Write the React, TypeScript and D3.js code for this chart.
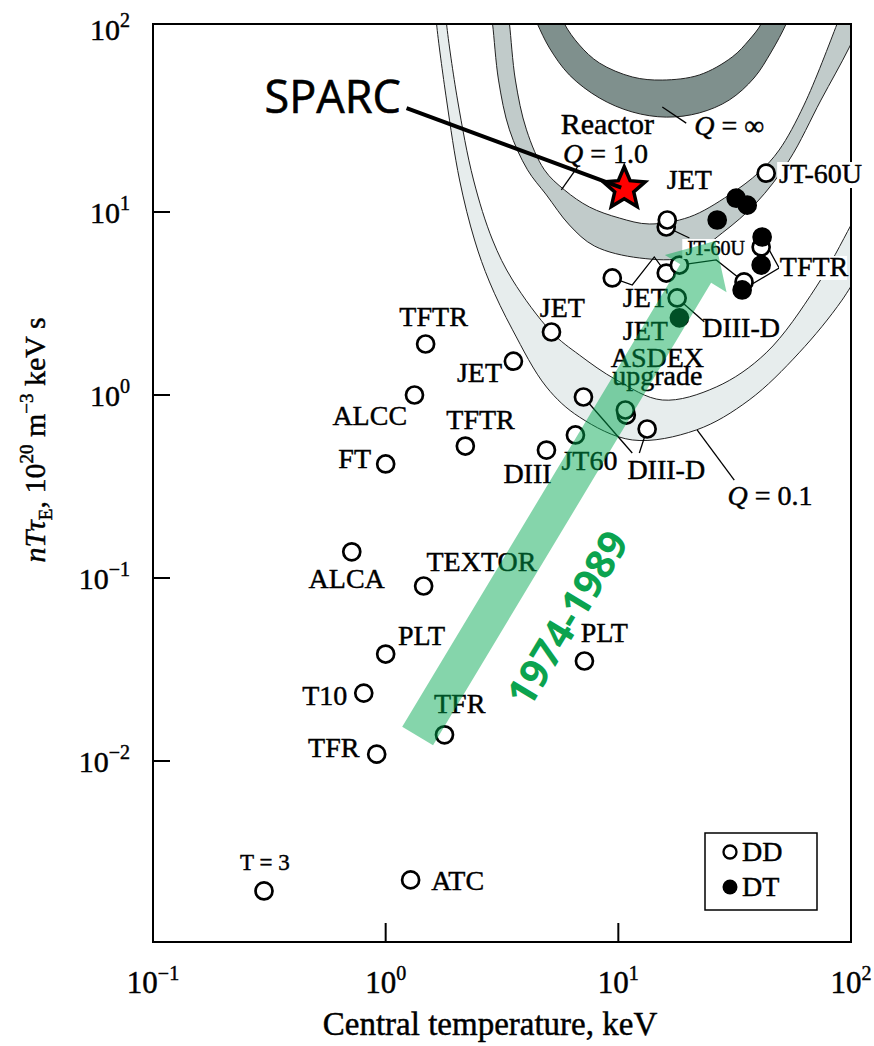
import React from "react";
import * as d3 from "d3";

const W = 874;
const H = 1046;
const PLOT = { x0: 153, x1: 851, y0: 24, y1: 942 };

// ---------- axis ticks ----------
const xTickValues = [0.1, 1, 10, 100];
const xTickExponents = ["−1", "0", "1", "2"];
const yTickValues = [0.01, 0.1, 1, 10, 100];
const yTickExponents = ["−2", "−1", "0", "1", "2"];

// ---------- discharges: [central temperature keV, nTτE 1e20 m^-3 keV s] ----------
const ddShots: [number, number][] = [
  [0.3, 0.00195], // T-3
  [1.28, 0.00224], // ATC
  [0.915, 0.0109], // TFR
  [0.805, 0.0235], // T10
  [1.0, 0.0384], // PLT
  [0.715, 0.139], // ALCA
  [1.456, 0.0904], // TEXTOR
  [1.0, 0.42], // FT
  [1.33, 1.0], // ALCC
  [1.485, 1.9], // TFTR
  [2.2, 0.526], // TFTR
  [3.54, 1.53], // JET
  [5.16, 2.21], // JET
  [4.91, 0.5], // DIII
  [1.79, 0.0139], // TFR
  [7.15, 0.0352], // PLT
  [6.54, 0.605], // JT60
  [7.08, 0.975], // DIII-D
  [10.82, 0.777], // ASDEX upgrade
  [10.72, 0.828], // ASDEX upgrade
  [13.3, 0.652], // DIII-D
  [9.42, 4.36], // JET
  [16.07, 4.64], // JET
  [18.3, 5.13], // JT-60U
  [17.9, 3.39], // DIII-D
  [16.07, 8.28], // JET
  [16.23, 9.04], // JET
  [43.2, 16.3], // JT-60U
  [41.1, 6.44], // TFTR
  [34.7, 4.15], // TFTR
];

const dtShots: [number, number][] = [
  [32.1, 11.9], // JET
  [35.8, 10.9], // JET
  [26.6, 9.04], // JET
  [41.5, 7.3], // TFTR
  [41.1, 5.13], // TFTR
  [34.05, 3.75], // TFTR
  [18.3, 2.64], // DIII-D
];

const sparcPoint: [number, number] = [10.6, 13.4];

// ---------- Q contours (band boundaries) ----------
const q01Outer: [number, number][] = [
  [1.64, 127], [1.655, 106.5], [1.827, 40.9], [2.078, 14.96], [2.41, 7.03], [2.795, 4.145],
  [3.51, 2.27], [4.91, 1.106], [6.8, 0.758], [11.48, 0.568], [21.62, 0.644], [36.49, 0.939],
  [59.8, 1.7], [91.5, 3.3], [119.5, 5.82],
];
const q01Inner: [number, number][] = [
  [1.81, 127], [1.827, 106.5], [2.037, 40.9], [2.386, 14.96], [2.88, 7.03], [3.51, 4.25],
  [5.157, 2.21], [6.8, 1.654], [9.8, 1.21], [15.45, 0.939], [26.35, 1.106], [43.18, 1.7],
  [70.8, 3.89], [100, 8.49], [113.7, 11.63],
];
const q1Outer: [number, number][] = [
  [2.82, 127], [2.88, 106.5], [3.055, 52.6], [3.405, 28.1], [4.07, 17.0], [4.91, 12.39],
  [6.16, 8.49], [7.89, 6.52], [12.31, 5.61], [19.58, 5.68], [27.96, 7.68], [39.11, 11.2],
  [54.2, 19.2], [74.3, 40.9], [98, 78.7], [113.7, 119],
];
const q1Inner: [number, number][] = [
  [3.34, 127], [3.405, 106.5], [3.61, 52.6], [4.03, 28.1], [4.81, 17.0], [5.87, 13.19],
  [7.51, 10.65], [10.1, 9.27], [13.58, 8.6], [20.2, 9.39], [29.96, 12.39], [40.3, 16.5],
  [49.1, 21.8], [62.8, 38.4], [87.1, 106.5], [93.3, 135],
];
const qInfOuter: [number, number][] = [
  [4.23, 127], [4.49, 106.5], [5.06, 78.7], [6.16, 56.1], [8.29, 42.0], [11.48, 35.2],
  [16.07, 33.0], [22.3, 34.8], [29.96, 40.9], [38.3, 54.0], [45.4, 74.9], [52.6, 106.5], [55.3, 127],
];
const qInfInner: [number, number][] = [
  [5.58, 127], [5.87, 106.5], [6.8, 81.8], [8.29, 65.2], [11.48, 54.7], [15.45, 52.6],
  [22.3, 56.1], [30.86, 70.3], [36.49, 87.1], [41.09, 106.5], [43.18, 127],
];

// ---------- annotations (anchored in data space) ----------
const machineLabels: [string, number, number][] = [
  ["ATC", 2.04, 0.00197],
  ["TFR", 0.598, 0.0105],
  ["T10", 0.547, 0.0202],
  ["PLT", 1.427, 0.043],
  ["ALCA", 0.68, 0.0882],
  ["TEXTOR", 2.58, 0.109],
  ["PLT", 8.71, 0.0447],
  ["TFR", 2.08, 0.0183],
  ["FT", 0.736, 0.399],
  ["ALCC", 0.854, 0.686],
  ["TFTR", 1.607, 2.38],
  ["TFTR", 2.557, 0.652],
  ["JET", 2.53, 1.178],
  ["JET", 5.75, 2.67],
  ["DIII", 4.07, 0.33],
  ["JT60", 7.51, 0.389],
  ["DIII-D", 16.07, 0.3475],
  ["JET", 13.06, 1.99],
  ["ASDEX", 14.71, 1.42],
  ["upgrade", 14.71, 1.134],
  ["DIII-D", 33.7, 2.07],
  ["JET", 13.06, 3.03],
  ["JET", 20.2, 13.36],
];
const qLabels: [string, number, number][] = [
  [" = 1.0", 8.8, 18.5],
  [" = ∞", 29.96, 26.35],
  [" = 0.1", 44.9, 0.2506],
];
const leaderLines: [number, number][][] = [
  [[9.42, 4.36], [11.48, 3.99], [14.27, 5.68], [16.07, 4.64]],
  [[16.07, 8.28], [20.2, 7.21]],
  [[18.3, 5.13], [26.35, 5.47], [34.7, 4.15]],
  [[41.5, 7.3], [49.1, 4.94], [34.05, 3.75]],
  [[17.9, 3.39], [23.4, 2.51]],
  [[7.08, 0.975], [11.48, 0.482]],
  [[13.3, 0.652], [12.31, 0.482]],
  [[21.8, 0.644], [31.5, 0.343]],
  [[15.45, 37.5], [19.58, 30.6]],
  [[5.69, 13.19], [6.67, 17.6]],
];
const sparcLabelAnchor: [number, number] = [0.592, 34.8];
const sparcLineStart: [number, number] = [1.23, 37.0];
const arrowTail: [number, number] = [1.372, 0.0137];
const arrowTip: [number, number] = [26.1, 6.94];
const arrowLabelAnchor: [number, number] = [5.98, 0.0605];

const SERIF = "'Liberation Serif', 'Times New Roman', serif";
const SANS = "'Open Sans', 'Noto Sans', sans-serif";
const HEAVY = { stroke: "#000", strokeWidth: 0.45 };

function starPath(cx: number, cy: number, R: number, r: number) {
  const pts: string[] = [];
  for (let i = 0; i < 10; i++) {
    const a = -Math.PI / 2 + (i * Math.PI) / 5;
    const rad = i % 2 === 0 ? R : r;
    pts.push(`${cx + rad * Math.cos(a)},${cy + rad * Math.sin(a)}`);
  }
  return "M" + pts.join("L") + "Z";
}

export default function App() {
  const x = d3.scaleLog().domain([0.1, 100]).range([PLOT.x0, PLOT.x1]);
  const y = d3.scaleLog().domain([1e-3, 1e2]).range([944, 29]);
  const curve = d3
    .line<[number, number]>()
    .x((d) => x(d[0]))
    .y((d) => y(d[1]))
    .curve(d3.curveCatmullRom.alpha(0.5));
  const straight = d3
    .line<[number, number]>()
    .x((d) => x(d[0]))
    .y((d) => y(d[1]));

  const bands = [
    { outer: q01Outer, inner: q01Inner, fill: "#e7eded" },
    { outer: q1Outer, inner: q1Inner, fill: "#c1cbca" },
    { outer: qInfOuter, inner: qInfInner, fill: "#7f908d" },
  ];

  // arrow geometry
  const p0 = [x(arrowTail[0]), y(arrowTail[1])];
  const p1 = [x(arrowTip[0]), y(arrowTip[1])];
  const len = Math.hypot(p1[0] - p0[0], p1[1] - p0[1]);
  const u = [(p1[0] - p0[0]) / len, (p1[1] - p0[1]) / len];
  const n = [-u[1], u[0]];
  const hw = 18, HW = 36, HL = 38;
  const b = [p1[0] - u[0] * HL, p1[1] - u[1] * HL];
  const arrowPts = [
    [p0[0] + n[0] * hw, p0[1] + n[1] * hw],
    [b[0] + n[0] * hw, b[1] + n[1] * hw],
    [b[0] + n[0] * HW, b[1] + n[1] * HW],
    p1,
    [b[0] - n[0] * HW, b[1] - n[1] * HW],
    [b[0] - n[0] * hw, b[1] - n[1] * hw],
    [p0[0] - n[0] * hw, p0[1] - n[1] * hw],
  ];
  const arrowD = "M" + arrowPts.map((p) => `${p[0]},${p[1]}`).join("L") + "Z";
  const arrowAngle = (Math.atan2(u[1], u[0]) * 180) / Math.PI;

  const sx = x(sparcPoint[0]);
  const sy = y(sparcPoint[1]);

  const jtSmall = [x(26.1), y(5.82)];
  const jtBig = [x(49.1), y(14.4)];
  const tftrR = [x(69.4), y(4.47)];

  return (
    <svg
      width={W}
      height={H}
      viewBox={`0 0 ${W} ${H}`}
      style={{ position: "absolute", left: 0, top: 0, background: "#fff" }}
    >
      <defs>
        <clipPath id="plotClip">
          <rect x={PLOT.x0} y={PLOT.y0} width={PLOT.x1 - PLOT.x0} height={PLOT.y1 - PLOT.y0} />
        </clipPath>
      </defs>
      <rect x={0} y={0} width={W} height={H} fill="#fff" />

      {/* Q bands */}
      <g clipPath="url(#plotClip)">
        {bands.map((bd, i) => (
          <g key={i}>
            <path
              d={(curve([...bd.outer, ...bd.inner.slice().reverse()]) || "") + "Z"}
              fill={bd.fill}
              stroke="none"
            />
            <path d={curve(bd.outer) || ""} fill="none" stroke="#222" strokeWidth={1} />
            <path d={curve(bd.inner) || ""} fill="none" stroke="#222" strokeWidth={1} />
          </g>
        ))}
      </g>

      {/* frame */}
      <rect
        x={PLOT.x0}
        y={PLOT.y0}
        width={PLOT.x1 - PLOT.x0}
        height={PLOT.y1 - PLOT.y0}
        fill="none"
        stroke="#000"
        strokeWidth={2}
      />
      {yTickValues.slice(0, 4).map((t) => (
        <line key={"yt" + t} x1={PLOT.x0} x2={PLOT.x0 + 17} y1={y(t)} y2={y(t)} stroke="#000" strokeWidth={2} />
      ))}
      {xTickValues.slice(1, 3).map((t) => (
        <line key={"xt" + t} x1={x(t)} x2={x(t)} y1={PLOT.y1} y2={PLOT.y1 - 19} stroke="#000" strokeWidth={2} />
      ))}

      {/* tick labels */}
      {yTickValues.map((t, i) => (
        <text key={"yl" + t} x={130} y={y(t) + 11} textAnchor="end" fontFamily={SERIF} fontSize={30} {...HEAVY}>
          10
          <tspan dy={-13} fontSize={20}>
            {yTickExponents[i]}
          </tspan>
        </text>
      ))}
      {xTickValues.map((t, i) => (
        <text key={"xl" + t} x={x(t)} y={993} textAnchor="middle" fontFamily={SERIF} fontSize={31} {...HEAVY}>
          10
          <tspan dy={-13} fontSize={20}>
            {xTickExponents[i]}
          </tspan>
        </text>
      ))}

      {/* axis titles */}
      <text x={490} y={1035} textAnchor="middle" fontFamily={SERIF} fontSize={33} {...HEAVY}>
        Central temperature, keV
      </text>
      <text transform="translate(45,440) rotate(-90)" textAnchor="middle" fontFamily={SERIF} fontSize={30} {...HEAVY}>
        <tspan fontStyle="italic">nTτ</tspan>
        <tspan dy={7} fontSize={19}>E</tspan>
        <tspan dy={-7}>, 10</tspan>
        <tspan dy={-12} fontSize={19}>20</tspan>
        <tspan dy={12}> m</tspan>
        <tspan dy={-12} fontSize={19}>−3</tspan>
        <tspan dy={12}> keV s</tspan>
      </text>

      {/* leader lines */}
      {leaderLines.map((l, i) => (
        <path key={"ld" + i} d={straight(l) || ""} fill="none" stroke="#000" strokeWidth={1.3} />
      ))}

      {/* data points */}
      {ddShots.map((d, i) => (
        <circle key={"dd" + i} cx={x(d[0])} cy={y(d[1])} r={8.5} fill="#fff" stroke="#000" strokeWidth={2.7} />
      ))}
      {dtShots.map((d, i) => (
        <circle key={"dt" + i} cx={x(d[0])} cy={y(d[1])} r={8.5} fill="#000" stroke="#000" strokeWidth={2.7} />
      ))}

      {/* labels */}
      <text x={x(0.3025)} y={y(0.00254)} textAnchor="middle" fontFamily={SERIF} fontSize={23} {...HEAVY}>
        T = 3
      </text>
      {machineLabels.map(([t, a, v], i) => (
        <text key={"lb" + i} x={x(a)} y={y(v)} textAnchor="middle" fontFamily={SERIF} fontSize={28} {...HEAVY}>
          {t}
        </text>
      ))}
      <text x={x(8.97)} y={y(26.7)} textAnchor="middle" fontFamily={SERIF} fontSize={30} {...HEAVY}>
        Reactor
      </text>
      {qLabels.map(([t, a, v], i) => (
        <text key={"ql" + i} x={x(a)} y={y(v)} textAnchor="middle" fontFamily={SERIF} fontSize={28} {...HEAVY}>
          <tspan fontStyle="italic">Q</tspan>
          {t}
        </text>
      ))}
      <rect x={tftrR[0] - 35} y={tftrR[1] - 20} width={68} height={24} fill="#fff" />
      <text x={tftrR[0]} y={tftrR[1]} textAnchor="middle" fontFamily={SERIF} fontSize={28} {...HEAVY}>
        TFTR
      </text>
      <rect x={jtBig[0] - 2} y={jtBig[1] - 21} width={90} height={26} fill="#fff" />
      <text x={jtBig[0]} y={jtBig[1]} textAnchor="start" fontFamily={SERIF} fontSize={28} {...HEAVY}>
        JT-60U
      </text>
      <rect x={jtSmall[0] - 33} y={jtSmall[1] - 16} width={66} height={20} fill="#fff" />
      <text x={jtSmall[0]} y={jtSmall[1]} textAnchor="middle" fontFamily={SERIF} fontSize={20} {...HEAVY}>
        JT-60U
      </text>

      {/* SPARC */}
      <path d={starPath(sx, sy, 22, 10)} fill="#ff0000" stroke="#000" strokeWidth={3.5} strokeLinejoin="miter" />
      <line
        x1={x(sparcLineStart[0])}
        y1={y(sparcLineStart[1])}
        x2={sx - 3}
        y2={sy - 1}
        stroke="#000"
        strokeWidth={4}
      />
      <text
        x={x(sparcLabelAnchor[0])}
        y={y(sparcLabelAnchor[1])}
        textAnchor="middle"
        fontFamily={SANS}
        fontSize={45}
        stroke="#000"
        strokeWidth={0.6}
      >
        SPARC
      </text>

      {/* progress arrow */}
      <path d={arrowD} fill="rgb(0,168,80)" fillOpacity={0.48} />
      <text
        transform={`translate(${x(arrowLabelAnchor[0])},${y(arrowLabelAnchor[1])}) rotate(${arrowAngle})`}
        textAnchor="middle"
        dominantBaseline="central"
        fontFamily={SANS}
        fontWeight={700}
        fontSize={40}
        fill="#0ba34f"
      >
        1974-1989
      </text>

      {/* legend */}
      <rect x={705} y={833} width={112} height={77} fill="#fff" stroke="#000" strokeWidth={1.5} />
      <circle cx={730} cy={852} r={6.5} fill="#fff" stroke="#000" strokeWidth={2.3} />
      <text x={742} y={861} fontFamily={SERIF} fontSize={28} {...HEAVY}>
        DD
      </text>
      <circle cx={730} cy={887} r={7.5} fill="#000" />
      <text x={742} y={896} fontFamily={SERIF} fontSize={28} {...HEAVY}>
        DT
      </text>
    </svg>
  );
}
